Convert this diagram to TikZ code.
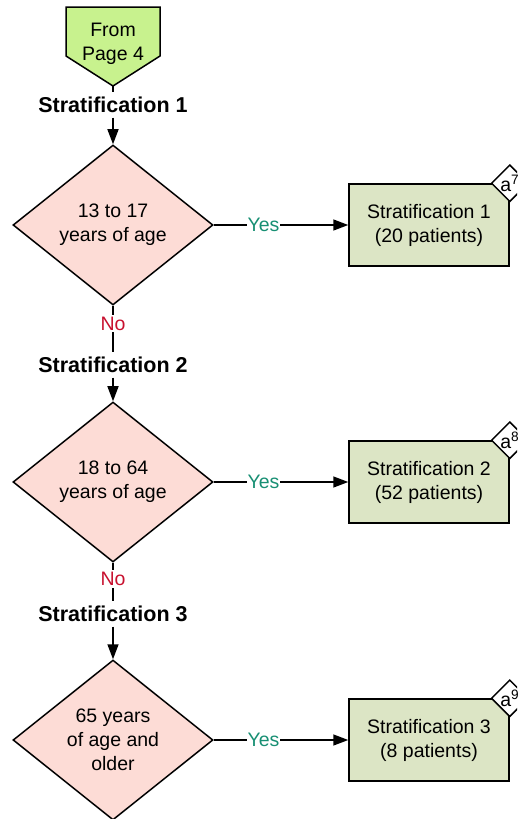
\documentclass[tikz,border=0pt]{standalone}
\usepackage{fontspec}
\setmainfont{Liberation Sans}
\usetikzlibrary{positioning,shapes.geometric,arrows.meta}

\definecolor{startgreen}{HTML}{C8F28E}
\definecolor{checkpink}{HTML}{FDDCD6}
\definecolor{groupgreen}{HTML}{DCE5C5}
\definecolor{yesgreen}{HTML}{178F73}
\definecolor{nored}{HTML}{C8102E}

\begin{document}
\begin{tikzpicture}[x=1pt,y=-1pt,>={Triangle[length=15pt,width=11pt]},line width=1.5pt,on grid,
    font=\fontsize{19.5}{24}\selectfont,
    check node/.style={diamond,draw,fill=checkpink,aspect=1.25,minimum width=200pt,minimum height=160pt,inner sep=0pt,align=center},
    group node/.style={rectangle,draw,fill=groupgreen,minimum width=160pt,minimum height=82pt,align=center},
    tag node/.style={diamond,draw,fill=white,minimum size=37pt,inner sep=0pt},
    strat node/.style={font=\fontsize{21.5}{24}\selectfont\bfseries,inner sep=4pt},
    yes label/.style={fill=white,text=yesgreen,inner sep=1pt},
    no label/.style={fill=white,text=nored,inner sep=2pt}]

\useasboundingbox (0,0) rectangle (517,819);
\clip (0,0) rectangle (517,819);

% off-page connector
\draw[fill=startgreen] (66,7) -- (160,7) -- (160,56) -- (113,86) -- (66,56) -- cycle;
\node[align=center] (from) at (113,44) {From\\Page 4};
\coordinate (fromtip) at (113,86);

% age checks
\node[check node] (check1) at (113,225) {13 to 17\\years of age};
\node[strat node] (strat1) [above=120pt of check1] {Stratification 1};
\node[check node] (check2) [below=257pt of check1] {18 to 64\\years of age};
\node[strat node] (strat2) [above=117pt of check2] {Stratification 2};
\node[check node] (check3) [below=258pt of check2] {65 years\\of age and\\older};
\node[strat node] (strat3) [above=126pt of check3] {Stratification 3};

% groups
\node[group node] (group1) [right=316pt of check1] {Stratification 1\\(20 patients)};
\node[group node] (group2) [right=316pt of check2] {Stratification 2\\(52 patients)};
\node[group node] (group3) [right=316pt of check3] {Stratification 3\\(8 patients)};
\node[tag node] (tag1) at (group1.north east) {a\textsuperscript{7}};
\node[tag node] (tag2) at (group2.north east) {a\textsuperscript{8}};
\node[tag node] (tag3) at (group3.north east) {a\textsuperscript{9}};

\path[->]
(fromtip) edge[-] (strat1)
(strat1) edge (check1)
(check1) edge node[yes label,pos=.37] {Yes} (group1)
(check1) edge[-] node[no label,pos=.38] {No} (strat2)
(strat2) edge (check2)
(check2) edge node[yes label,pos=.37] {Yes} (group2)
(check2) edge[-] node[no label,pos=.42] {No} (strat3)
(strat3) edge (check3)
(check3) edge node[yes label,pos=.37] {Yes} (group3);
\end{tikzpicture}
\end{document}
